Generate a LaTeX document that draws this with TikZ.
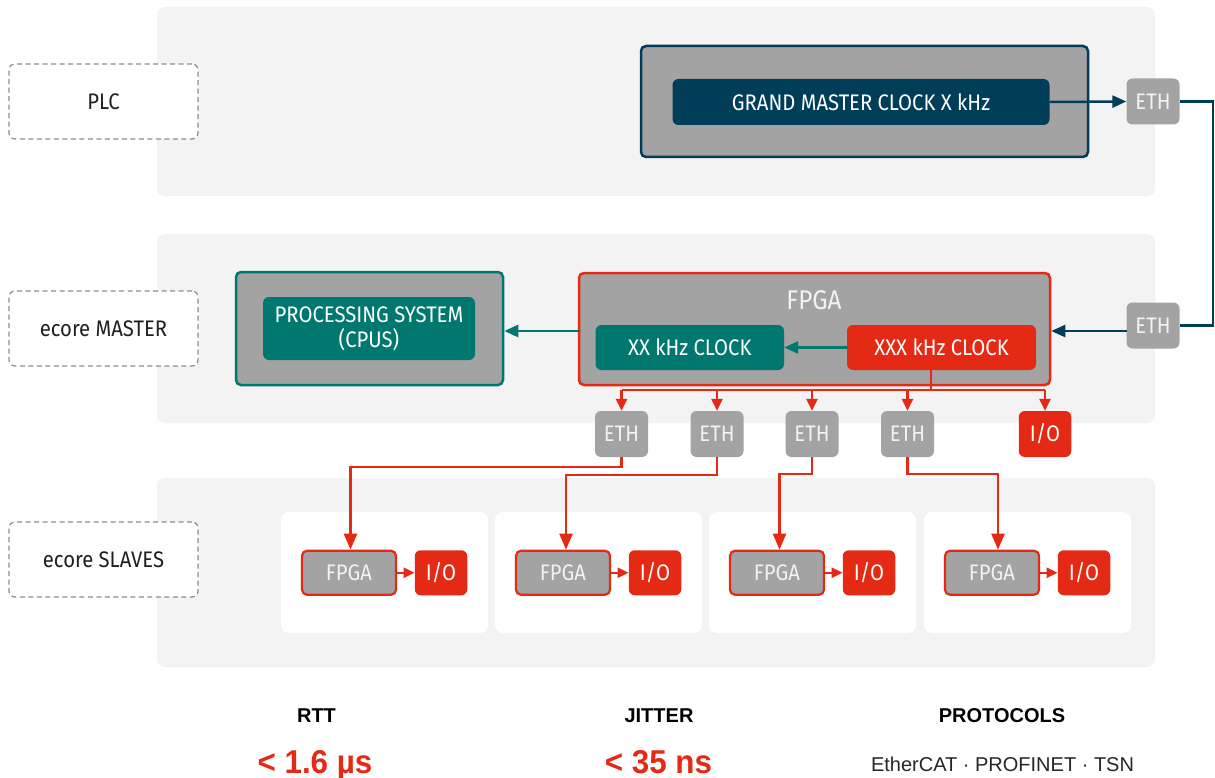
\documentclass[tikz,border=0pt]{standalone}
\usepackage{fontspec}
\setmainfont{Fira Sans}[FakeStretch=0.9]
\newfontfamily\hfont{Liberation Sans}
\newfontfamily\hfontc{Liberation Sans}[FakeStretch=0.95]
\usetikzlibrary{arrows.meta}
\definecolor{bandc}{HTML}{F3F3F3}
\definecolor{gboxc}{HTML}{A3A3A3}
\definecolor{navyc}{HTML}{003D58}
\definecolor{tealc}{HTML}{00786F}
\definecolor{eredc}{HTML}{E42A14}
\definecolor{dashc}{HTML}{8C8C8C}
\definecolor{ltxt}{HTML}{F2F2F2}
\newcommand\bxf{\fontsize{22.5}{25}\selectfont}
\tikzset{
  lab/.style={draw=dashc, dash pattern=on 5pt off 3.5pt, line width=1.2pt, fill=white, rounded corners=6pt,
    minimum width=189pt, minimum height=75pt, inner sep=0pt, font=\bxf, text=black!88},
  outerbox/.style={fill=gboxc, line width=2.5pt, rounded corners=5pt, inner sep=0pt},
  fillbox/.style={rounded corners=6pt, inner sep=0pt, text=white, font=\bxf, align=center},
  ethbox/.style={fill=gboxc, rounded corners=6pt, inner sep=0pt, minimum width=53pt, minimum height=46pt, text=ltxt, font=\bxf},
  iobox/.style={fill=eredc, rounded corners=6pt, inner sep=0pt, minimum width=52.5pt, minimum height=46pt, text=white, font=\bxf},
  sfpgabox/.style={fill=gboxc, draw=eredc, line width=2.2pt, rounded corners=5pt, inner sep=0pt, minimum width=94pt, minimum height=44pt, text=ltxt, font=\bxf},
  cardbox/.style={fill=white, rounded corners=8pt, inner sep=0pt, minimum width=207pt, minimum height=121pt},
  navyline/.style={draw=navyc, line width=2.5pt},
  navyarrow/.style={navyline, -{Triangle[length=14pt,width=12pt]}},
  tealarrow/.style={draw=tealc, line width=2.5pt, -{Triangle[length=14pt,width=12pt]}},
  redline/.style={draw=eredc, line width=2.5pt},
  redarrow/.style={redline, -{Triangle[length=12pt,width=11pt]}},
  redbigarrow/.style={redline, -{Triangle[length=16pt,width=13pt]}},
  redsmall/.style={redline, -{Triangle[length=11pt,width=10pt]}},
}
\begin{document}
\begin{tikzpicture}[x=1pt,y=-1pt]
\useasboundingbox (0,0) rectangle (1215,778);
% bands
\fill[bandc, rounded corners=8pt] (157,7) rectangle (1155,196);
\fill[bandc, rounded corners=8pt] (157,234) rectangle (1155,423);
\fill[bandc, rounded corners=8pt] (157,478) rectangle (1155,667);
% left labels
\node[lab] (plc) at (103.5,101.5) {PLC};
\node[lab] (mst) at (103.5,328.5) {ecore MASTER};
\node[lab] (slv) at (103.5,559.5) {ecore SLAVES};
% PLC row
\node[outerbox, draw=navyc, minimum width=447pt, minimum height=111pt] (gmo) at (864.5,101.5) {};
\node[fillbox, fill=navyc, minimum width=377pt, minimum height=46pt] (gm) at (861,102) {GRAND MASTER CLOCK X kHz};
\node[ethbox] (eth1) at (1153,101.5) {ETH};
\node[ethbox] (eth2) at (1153,325.5) {ETH};
\draw[navyarrow] (gm.east) -- (eth1.west);
\coordinate (rt) at (1213,101.5);
\draw[navyline] (eth1.east) -- (rt) |- (eth2.east);
% master row
\node[outerbox, draw=eredc, minimum width=471pt, minimum height=112pt] (fpga) at (814.5,329) {};
\node[text=ltxt, font=\fontsize{27}{30}\selectfont, inner sep=0pt] (fpgal) at (814,300) {FPGA};
\node[fillbox, fill=tealc, minimum width=188.5pt, minimum height=45pt] (xx) at (689.75,347.5) {XX kHz CLOCK};
\node[fillbox, fill=eredc, minimum width=189pt, minimum height=45pt] (xxx) at (941.5,347.5) {XXX kHz CLOCK};
\draw[tealarrow] (xxx.west) -- (xx.east);
\coordinate (a2) at (1127,331);
\draw[navyarrow] (a2) -- (a2 -| fpga.east);
\node[outerbox, draw=tealc, minimum width=267pt, minimum height=113pt] (pso) at (369.5,328.5) {};
\node[fillbox, fill=tealc, minimum width=212pt, minimum height=63pt] (ps) at (369,328.5) {PROCESSING SYSTEM\\(CPUS)};
\coordinate (fw) at (579,331);
\draw[tealarrow] (fw) -- (fw -| pso.east);
% eth row
\node[ethbox] (ea) at (621.5,434) {ETH};
\node[ethbox] (eb) at (717,434) {ETH};
\node[ethbox] (ec) at (812,434) {ETH};
\node[ethbox] (ed) at (907.5,434) {ETH};
\node[iobox] (io0) at (1045,434) {I/O};
\coordinate (tj) at (931,390);
\draw[redline] (xxx.south -| tj) -- (tj);
\draw[redline] (ea |- tj) -- (io0 |- tj);
\foreach \n in {ea,eb,ec,ed,io0} \draw[redarrow] (\n |- tj) -- (\n.north);
% slaves
\foreach \i/\x in {1/281,2/495,3/709,4/924}{
  \node[cardbox] (card\i) at (\x+103.5,572.5) {};
  \node[sfpgabox] (sf\i) at (\x+68,572.75) {FPGA};
  \node[iobox, minimum height=45pt] (sio\i) at (\x+160,572.75) {I/O};
  \draw[redsmall] (sf\i.east) -- (sio\i.west);
}
\coordinate (c1) at (350.5,467);
\coordinate (c2) at (566,475);
\coordinate (c3) at (779.5,474);
\coordinate (c4) at (998,474);
\draw[redbigarrow] (ea.south) |- (c1) -- (c1 |- sf1.north);
\draw[redbigarrow] (eb.south) |- (c2) -- (c2 |- sf2.north);
\draw[redbigarrow] (ec.south) |- (c3) -- (c3 |- sf3.north);
\draw[redbigarrow] (ed.south) |- (c4) -- (c4 |- sf4.north);
% bottom stats
\node[anchor=base, inner sep=0pt, font=\hfont\bfseries\fontsize{20}{24}\selectfont] (rtt) at (316.5,722.7) {RTT};
\node[anchor=base, inner sep=0pt, font=\hfont\bfseries\fontsize{20}{24}\selectfont] (jit) at (659,722.7) {JITTER};
\node[anchor=base, inner sep=0pt, font=\hfont\bfseries\fontsize{20}{24}\selectfont] (pro) at (1002,722.7) {PROTOCOLS};
\node[anchor=base, inner sep=0pt, text=eredc, font=\hfontc\bfseries\fontsize{33}{38}\selectfont] (rttv) at (315,773) {< 1.6 µs};
\node[anchor=base, inner sep=0pt, text=eredc, font=\hfontc\bfseries\fontsize{33}{38}\selectfont] (jitv) at (658.5,773) {< 35 ns};
\node[anchor=base, inner sep=0pt, text=black!85, font=\hfont\fontsize{20}{24}\selectfont] (prov) at (1002.5,771.7) {EtherCAT · PROFINET · TSN};
\end{tikzpicture}
\end{document}
